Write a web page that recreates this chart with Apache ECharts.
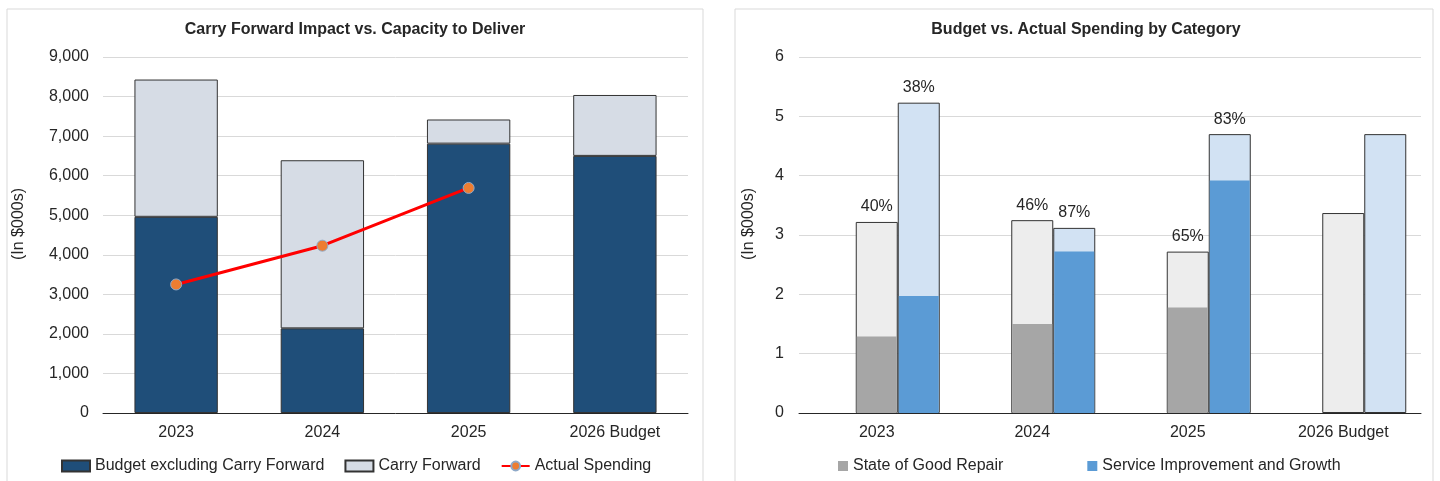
<!DOCTYPE html>
<html>
<head>
<meta charset="utf-8">
<script src="https://cdn.jsdelivr.net/npm/echarts@6/dist/echarts.min.js"></script>
<style>
  html, body { margin: 0; padding: 0; background: #fff; }
  #chart { width: 1440px; height: 481px; }
</style>
</head>
<body>
<div id="chart"></div>
<script>
// categories shared by both panels
const years = ['2023', '2024', '2025', '2026 Budget'];

// left panel: carry forward vs capacity
const budgetExCarry = [4960, 2140, 6810, 6500];
const carryForward = [3470, 4250, 610, 1540];
const actualSpending = [3250, 4230, 5690, null];

// right panel: budget vs actual by category (in $000s)
const sogrBudget = [3.22, 3.25, 2.72, 3.37];
const sogrActual = [1.29, 1.50, 1.78, null];
const sigBudget = [5.23, 3.12, 4.70, 4.70];
const sigActual = [1.97, 2.72, 3.92, null];
const sogrPct = ['40%', '46%', '65%', ''];
const sigPct = ['38%', '87%', '83%', ''];

const font = 'Arial, "Liberation Sans", sans-serif';
const ink = '#262626';
const outline = '#333333';

const chart = echarts.init(document.getElementById('chart'));

const empty = years.map(() => '-');

const option = {
    animation: false,
    textStyle: { fontFamily: font, color: ink },
    graphic: [
        { type: 'rect', shape: { x: 7, y: 9, width: 696, height: 500 }, style: { fill: 'none', stroke: '#d9d9d9', lineWidth: 1 } },
        { type: 'rect', shape: { x: 735, y: 9, width: 698, height: 500 }, style: { fill: 'none', stroke: '#d9d9d9', lineWidth: 1 } }
    ],
    title: [
        {
            text: 'Carry Forward Impact vs. Capacity to Deliver',
            left: 355, top: 22, textAlign: 'center', padding: 0,
            textStyle: { fontFamily: font, fontSize: 16, fontWeight: 'bold', color: ink }
        },
        {
            text: 'Budget vs. Actual Spending by Category',
            left: 1086, top: 22, textAlign: 'center', padding: 0,
            textStyle: { fontFamily: font, fontSize: 16, fontWeight: 'bold', color: ink }
        }
    ],
    legend: [
        {
            left: 61, top: 458, padding: 0,
            itemWidth: 28, itemHeight: 11, itemGap: 20,
            textStyle: { fontFamily: font, fontSize: 16, color: ink },
            data: [
                { name: 'Budget excluding Carry Forward', icon: 'rect' },
                { name: 'Carry Forward', icon: 'rect' },
                'Actual Spending'
            ]
        },
        {
            left: 838, top: 458, padding: 0,
            itemWidth: 10, itemHeight: 10, itemGap: 84, icon: 'rect',
            textStyle: { fontFamily: font, fontSize: 16, color: ink },
            data: ['State of Good Repair', 'Service Improvement and Growth']
        }
    ],
    grid: [
        { left: 103, right: 752, top: 57, bottom: 68 },
        { left: 799, right: 19, top: 57, bottom: 68 }
    ],
    xAxis: [
        {
            type: 'category', gridIndex: 0, data: years,
            axisLine: { lineStyle: { color: ink, width: 1 } },
            axisTick: { show: false },
            axisLabel: { fontSize: 16, color: ink, margin: 12 }
        },
        {
            type: 'category', gridIndex: 1, data: years,
            axisLine: { lineStyle: { color: ink, width: 1 } },
            axisTick: { show: false },
            axisLabel: { fontSize: 16, color: ink, margin: 12 }
        },
        // hidden overlay axis so the actual bars sit on top of their budget bars
        { type: 'category', gridIndex: 1, data: years, show: false }
    ],
    yAxis: [
        {
            type: 'value', gridIndex: 0, min: 0, max: 9000, interval: 1000,
            name: '(In $000s)', nameLocation: 'middle', nameGap: 76, nameRotate: 90,
            nameTextStyle: { fontSize: 16, color: ink, padding: [0, 0, 0, 22] },
            axisLine: { show: false }, axisTick: { show: false },
            axisLabel: { fontSize: 16, color: ink, margin: 14, formatter: v => v.toLocaleString('en-US') },
            splitLine: { lineStyle: { color: '#d9d9d9', width: 1 } }
        },
        {
            type: 'value', gridIndex: 1, min: 0, max: 6, interval: 1,
            name: '(In $000s)', nameLocation: 'middle', nameGap: 42, nameRotate: 90,
            nameTextStyle: { fontSize: 16, color: ink, padding: [0, 0, 0, 22] },
            axisLine: { show: false }, axisTick: { show: false },
            axisLabel: { fontSize: 16, color: ink, margin: 15 },
            splitLine: { lineStyle: { color: '#d9d9d9', width: 1 } }
        }
    ],
    series: [
        // left panel
        {
            name: 'Budget excluding Carry Forward', type: 'bar', stack: 'cap',
            xAxisIndex: 0, yAxisIndex: 0, barCategoryGap: '43%',
            itemStyle: { color: '#1f4e79', borderColor: outline, borderWidth: 1 },
            data: budgetExCarry
        },
        {
            name: 'Carry Forward', type: 'bar', stack: 'cap',
            xAxisIndex: 0, yAxisIndex: 0,
            itemStyle: { color: '#d6dce5', borderColor: outline, borderWidth: 1 },
            data: carryForward
        },
        {
            name: 'Actual Spending', type: 'line',
            xAxisIndex: 0, yAxisIndex: 0, z: 5,
            symbol: 'circle', symbolSize: 11,
            lineStyle: { color: '#ff0000', width: 3 },
            itemStyle: { color: '#ed7d31', borderColor: '#8ea9c8', borderWidth: 1 },
            data: actualSpending
        },
        // right panel: budget totals
        {
            name: 'spacer', type: 'bar', xAxisIndex: 1, yAxisIndex: 1,
            barWidth: 42, barGap: 0, data: empty
        },
        {
            name: 'State of Good Repair budget', type: 'bar', xAxisIndex: 1, yAxisIndex: 1,
            barWidth: 42, barGap: 0,
            itemStyle: { color: '#ededed', borderColor: outline, borderWidth: 1 },
            label: {
                show: true, position: 'top', distance: 7, fontSize: 16, color: ink,
                formatter: p => sogrPct[p.dataIndex]
            },
            data: sogrBudget
        },
        {
            name: 'Service Improvement and Growth budget', type: 'bar', xAxisIndex: 1, yAxisIndex: 1,
            barWidth: 42, barGap: 0,
            itemStyle: { color: '#d2e2f3', borderColor: outline, borderWidth: 1 },
            label: {
                show: true, position: 'top', distance: 7, fontSize: 16, color: ink,
                formatter: p => sigPct[p.dataIndex]
            },
            data: sigBudget
        },
        // right panel: actual spending drawn over the budget bars, 1px inset so the outline stays
        {
            name: 'spacer2', type: 'bar', xAxisIndex: 2, yAxisIndex: 1,
            barWidth: 40, barGap: '5%', data: empty
        },
        {
            name: 'State of Good Repair', type: 'bar', xAxisIndex: 2, yAxisIndex: 1,
            barWidth: 40, barGap: '5%',
            itemStyle: { color: '#a6a6a6' },
            data: sogrActual
        },
        {
            name: 'Service Improvement and Growth', type: 'bar', xAxisIndex: 2, yAxisIndex: 1,
            barWidth: 40, barGap: '5%',
            itemStyle: { color: '#5b9bd5' },
            data: sigActual
        }
    ]
};

chart.setOption(option);
</script>
</body>
</html>
